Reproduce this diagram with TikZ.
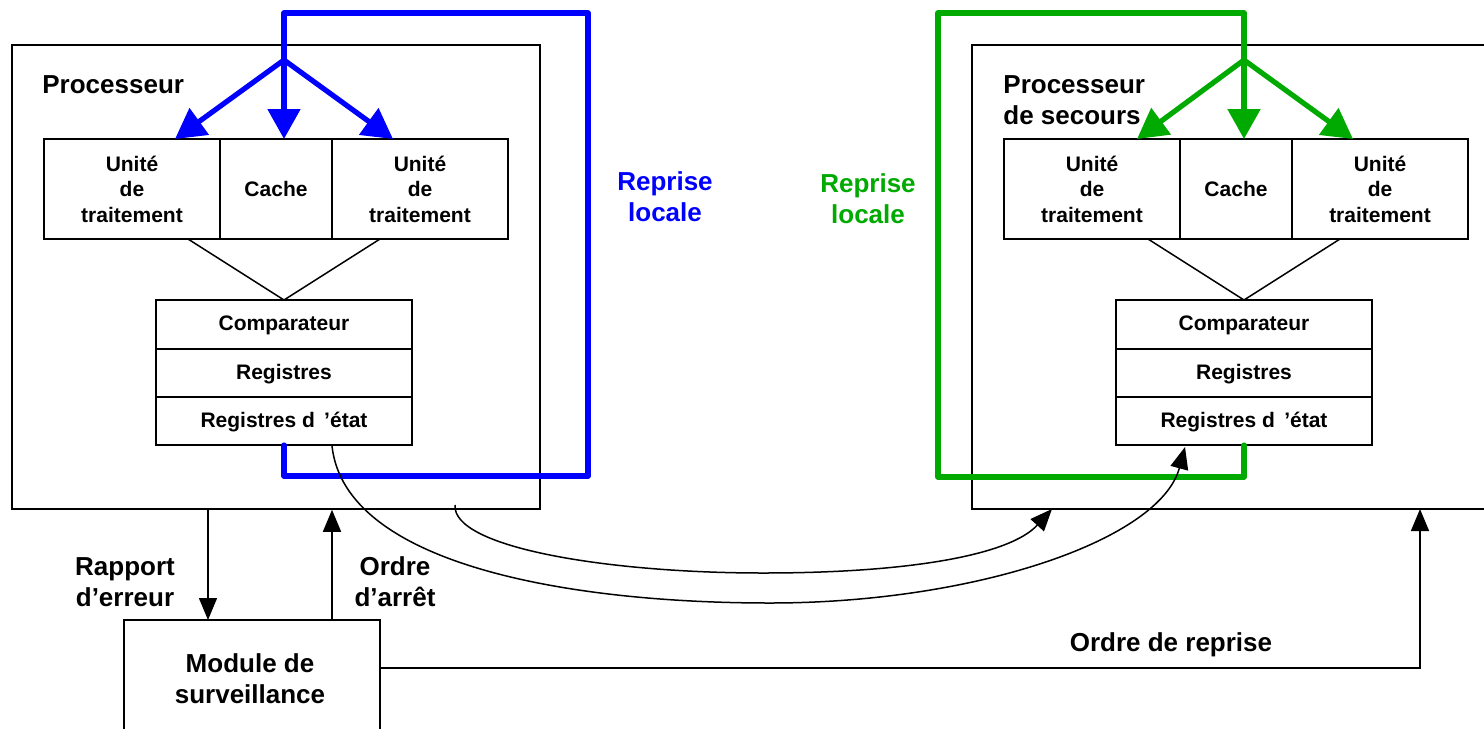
\documentclass[tikz,border=0pt]{standalone}
\usepackage{fontspec}
\setmainfont{Liberation Sans}
\usetikzlibrary{arrows.meta}
\definecolor{pblue}{RGB}{0,0,255}
\definecolor{pgreen}{RGB}{0,170,0}
\newcommand\smallf{\fontsize{10.5}{12.75}\selectfont\bfseries}
\newcommand\bigf{\fontsize{13}{15.5}\selectfont\bfseries}
\tikzset{
  box/.style={draw, line width=0.75pt, inner sep=0pt, align=center, font=\smallf},
  row/.style={box, text height=7.6pt, text depth=1.2pt},
  lbl/.style={inner sep=0pt, align=center, font=\bigf},
  thin/.style={line width=0.75pt},
  blk/.style={line width=0.75pt, -{Triangle[length=11pt,width=9pt]}},
  bl/.style={draw=pblue, line width=2.6pt, line join=round, line cap=round},
  gr/.style={draw=pgreen, line width=2.6pt, line join=round, line cap=round},
  blarr/.style={bl, line cap=butt, -{Triangle[length=15pt,width=16pt]}},
  grarr/.style={gr, line cap=butt, -{Triangle[length=15pt,width=16pt]}},
}
\begin{document}
\begin{tikzpicture}[x=0.5pt,y=-0.5pt]
\useasboundingbox (0,0) rectangle (1484,729);
% ---------- left processor ----------
\node[draw, thin, minimum width=264pt, minimum height=232pt, inner sep=0pt] (p1) at (276,277) {};
\node[lbl, anchor=west] (p1t) at (42,85) {Processeur};
\node[box, minimum width=88pt, minimum height=50pt] (a1) at (132,189) {Unité\\de\\traitement};
\node[box, minimum width=56pt, minimum height=50pt] (c1) at (276,189) {Cache};
\node[box, minimum width=88pt, minimum height=50pt] (b1) at (420,189) {Unité\\de\\traitement};
\node[row, minimum width=128pt, minimum height=24.5pt] (cmp1) at (284,324.5) {Comparateur};
\node[row, minimum width=128pt, minimum height=24pt] (reg1) at (284,373) {Registres};
\node[row, minimum width=128pt, minimum height=24pt] (ret1) at (284,421) {Registres d \,’état};
\coordinate (apex1) at (284,300);
\draw[thin] (188,239) -- (apex1) -- (380,239);
% blue loop
\coordinate (bs1) at (284,445);
\coordinate (br1) at (284,60);
\draw[bl] (bs1) -- (284,476) -- (588,476) -- (588,13) -- (284,13) -- (br1);
\draw[blarr] (br1) -- (175,139);
\draw[blarr] (br1) -- (284,139);
\draw[blarr] (br1) -- (393,139);
\node[lbl, text=pblue] (rl1) at (665,197) {Reprise\\locale};
% ---------- right processor ----------
\draw[thin] (1484,45) -- (972,45) -- (972,509) -- (1484,509);
\coordinate (p2s) at (1052,509);
\coordinate (p2r) at (1420,509);
\node[lbl, anchor=west, align=left] (p2t) at (1003,100.5) {Processeur\\de secours};
\node[box, minimum width=88pt, minimum height=50pt] (a2) at (1092,189) {Unité\\de\\traitement};
\node[box, minimum width=56pt, minimum height=50pt] (c2) at (1236,189) {Cache};
\node[box, minimum width=88pt, minimum height=50pt] (b2) at (1380,189) {Unité\\de\\traitement};
\node[row, minimum width=128pt, minimum height=24.5pt] (cmp2) at (1244,324.5) {Comparateur};
\node[row, minimum width=128pt, minimum height=24pt] (reg2) at (1244,373) {Registres};
\node[row, minimum width=128pt, minimum height=24pt] (ret2) at (1244,421) {Registres d \,’état};
\coordinate (apex2) at (1244,300);
\draw[thin] (1148,239) -- (apex2) -- (1340,239);
% green loop
\coordinate (gs2) at (1244,445);
\coordinate (gr2) at (1244,60);
\draw[gr] (gs2) -- (1244,477) -- (938,477) -- (938,13) -- (1244,13) -- (gr2);
\draw[grarr] (gr2) -- (1137,139);
\draw[grarr] (gr2) -- (1244,139);
\draw[grarr] (gr2) -- (1353,139);
\node[lbl, text=pgreen] (rl2) at (868,199) {Reprise\\locale};
% ---------- curves ----------
\coordinate (c1s) at (455,505);
\draw[blk] (c1s) .. controls (452,548) and (610,573) .. (763,573)
          .. controls (910,573) and (1010,555) .. (p2s);
\coordinate (c2s) at (332,446);
\coordinate (c2e) at (1185,447);
\draw[blk] (c2s) .. controls (345,565) and (570,603) .. (770,603)
          .. controls (975,603) and (1160,540) .. (c2e);
% ---------- monitor ----------
\draw[thin] (124,729) -- (124,620) -- (380,620) -- (380,729);
\node[lbl] (mod) at (250,679) {Module de\\surveillance};
\coordinate (mtop1) at (208,620);
\coordinate (mtop2) at (332,620);
\coordinate (mright) at (380,668);
\draw[blk] (p1.south -| mtop1) -- (mtop1);
\draw[blk] (mtop2) -- (p1.south -| mtop2);
\node[lbl] (rap) at (125,582) {Rapport\\d’erreur};
\node[lbl] (arr) at (395,582) {Ordre\\d’arrêt};
\draw[blk] (mright) -- (1420,668) -- (p2r);
\node[lbl] (rep) at (1171,645) {Ordre de reprise};
\end{tikzpicture}
\end{document}
